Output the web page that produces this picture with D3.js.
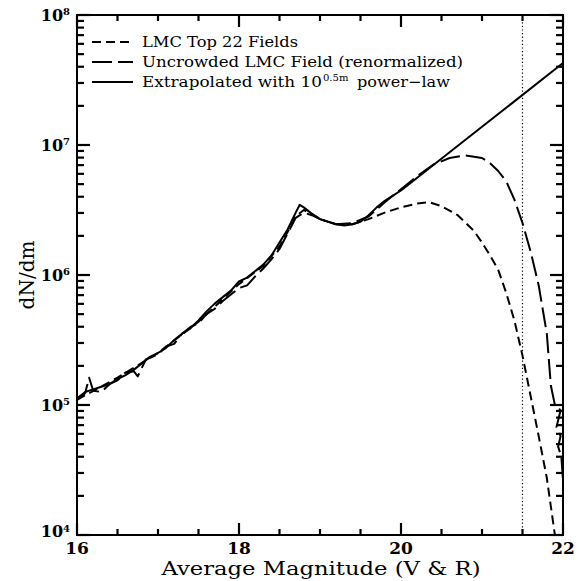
<!DOCTYPE html>
<html>
<head>
<meta charset="utf-8">
<script src="https://cdn.jsdelivr.net/npm/d3@7"></script>
<style>
  body { margin: 0; background: #fff; }
  text { font-family: "DejaVu Serif", serif; fill: #000; }
</style>
</head>
<body>
<svg id="lfChart" width="578" height="581"></svg>
<script>
// --- data (log10 of dN/dm) ---
const top22Mag = [16.0, 16.5, 17.0, 17.5, 18.0, 18.3, 18.5, 18.6, 18.7, 18.8, 18.9, 19.0, 19.2, 19.4, 19.6, 19.8, 20.0, 20.2, 20.35, 20.5, 20.7, 20.9, 21.0, 21.1, 21.2, 21.3, 21.4, 21.5, 21.6, 21.7, 21.8, 21.9]
const top22Log = [5.04, 5.21, 5.40, 5.64, 5.93, 6.07, 6.22, 6.33, 6.45, 6.50, 6.47, 6.43, 6.39, 6.39, 6.43, 6.48, 6.52, 6.55, 6.56, 6.53, 6.46, 6.34, 6.25, 6.15, 6.04, 5.86, 5.65, 5.38, 5.07, 4.76, 4.44, 4.0]

const uncrowdedMag = [16.0, 16.1, 16.15, 16.2, 16.3, 16.4, 16.5, 16.6, 16.7, 16.75, 16.85, 17.0, 17.1, 17.2, 17.3, 17.4, 17.5, 17.6, 17.7, 17.8, 17.9, 18.0, 18.1, 18.2, 18.3, 18.4, 18.5, 18.6, 18.7, 18.8, 18.9, 19.0, 19.2, 19.4, 19.6, 19.8, 20.0, 20.2, 20.4, 20.6, 20.8, 21.0, 21.1, 21.2, 21.3, 21.4, 21.5, 21.6, 21.7, 21.8, 21.85, 21.9, 21.97, 21.92, 21.97, 21.94, 21.98, 22.0]
const uncrowdedLog = [5.04, 5.09, 5.21, 5.11, 5.10, 5.16, 5.19, 5.25, 5.26, 5.22, 5.35, 5.39, 5.45, 5.47, 5.55, 5.60, 5.63, 5.70, 5.74, 5.80, 5.85, 5.90, 5.92, 5.99, 6.05, 6.12, 6.20, 6.32, 6.44, 6.48, 6.46, 6.43, 6.39, 6.40, 6.45, 6.56, 6.66, 6.76, 6.85, 6.90, 6.92, 6.90, 6.86, 6.80, 6.72, 6.58, 6.40, 6.18, 5.92, 5.55, 5.15, 5.00, 4.96, 4.83, 4.76, 4.68, 4.60, 4.42]

const extrapMag = [16.0, 16.1, 16.2, 16.3, 16.4, 16.5, 16.6, 16.7, 16.8, 16.9, 17.0, 17.1, 17.2, 17.3, 17.4, 17.5, 17.6, 17.7, 17.8, 17.9, 18.0, 18.1, 18.2, 18.3, 18.4, 18.5, 18.6, 18.7, 18.75, 18.8, 18.9, 19.0, 19.1, 19.2, 19.3, 19.4, 19.5, 19.6, 19.7, 19.8, 19.9, 20.0, 21.0, 22.0]
const extrapLog = [5.05, 5.10, 5.12, 5.14, 5.16, 5.20, 5.23, 5.27, 5.32, 5.37, 5.40, 5.44, 5.50, 5.55, 5.59, 5.65, 5.72, 5.78, 5.83, 5.88, 5.95, 5.98, 6.03, 6.08, 6.15, 6.25, 6.35, 6.48, 6.54, 6.52, 6.47, 6.43, 6.41, 6.39, 6.38, 6.39, 6.41, 6.46, 6.52, 6.57, 6.61, 6.65, 7.14, 7.63]

const xMajorTicks = [16, 18, 20, 22]
const xMinorTicks = [16.5, 17, 17.5, 18.5, 19, 19.5, 20.5, 21, 21.5]
const yDecades = [4, 5, 6, 7, 8]
const cutMag = 21.5

const legendLabels = ["LMC Top 22 Fields", "Uncrowded LMC Field (renormalized)", "Extrapolated with 10"]

// --- layout ---
const plot = { left: 77, right: 563, top: 15, bottom: 535 }
const svg = d3.select("#lfChart")

const xScale = d3.scaleLinear().domain([16, 22]).range([plot.left, plot.right])
const yScale = d3.scaleLog().domain([1e4, 1e8]).range([plot.bottom, plot.top])

const yMajor = yDecades.map(e => Math.pow(10, e))
const yMinor = []
yDecades.slice(0, -1).forEach(e => {
  for (let k = 2; k <= 9; k++) yMinor.push(k * Math.pow(10, e))
})

svg.append("clipPath").attr("id", "plotClip")
  .append("rect")
  .attr("x", plot.left).attr("y", plot.top)
  .attr("width", plot.right - plot.left).attr("height", plot.bottom - plot.top)

// frame
svg.append("rect")
  .attr("x", plot.left).attr("y", plot.top)
  .attr("width", plot.right - plot.left).attr("height", plot.bottom - plot.top)
  .attr("fill", "none").attr("stroke", "#000").attr("stroke-width", 2)

// ticks, pointing inward on all four sides
const tickG = svg.append("g")
function xTicks(vals, len) {
  tickG.selectAll(null).data(vals).enter().append("line")
    .attr("x1", d => xScale(d)).attr("x2", d => xScale(d))
    .attr("y1", plot.bottom).attr("y2", plot.bottom - len)
    .attr("stroke", "#000").attr("stroke-width", 2.2)
  tickG.selectAll(null).data(vals).enter().append("line")
    .attr("x1", d => xScale(d)).attr("x2", d => xScale(d))
    .attr("y1", plot.top).attr("y2", plot.top + len)
    .attr("stroke", "#000").attr("stroke-width", 2.2)
}
function yTicks(vals, len) {
  tickG.selectAll(null).data(vals).enter().append("line")
    .attr("y1", d => yScale(d)).attr("y2", d => yScale(d))
    .attr("x1", plot.left).attr("x2", plot.left + len)
    .attr("stroke", "#000").attr("stroke-width", 2.2)
  tickG.selectAll(null).data(vals).enter().append("line")
    .attr("y1", d => yScale(d)).attr("y2", d => yScale(d))
    .attr("x1", plot.right).attr("x2", plot.right - len)
    .attr("stroke", "#000").attr("stroke-width", 2.2)
}
xTicks(xMajorTicks, 12)
xTicks(xMinorTicks, 6)
yTicks(yMajor, 13)
yTicks(yMinor, 7)

// x tick labels
svg.append("g").selectAll("text")
  .data(xMajorTicks)
  .enter()
  .append("text")
  .attr("x", d => xScale(d))
  .attr("y", plot.bottom + 19)
  .attr("text-anchor", "middle")
  .attr("font-size", 17)
  .attr("font-weight", "bold")
  .text(d => d)

// y tick labels 10^n
const yLab = svg.append("g").selectAll("text")
  .data(yDecades)
  .enter()
  .append("text")
  .attr("x", plot.left - 7)
  .attr("y", d => yScale(Math.pow(10, d)))
  .attr("dy", d => d === 4 ? "0.15em" : "0.35em")
  .attr("text-anchor", "end")
  .attr("font-size", 16)
  .attr("font-weight", "bold")
yLab.append("tspan").text("10")
yLab.append("tspan").attr("font-size", 10).attr("dy", "-0.55em").text(d => d)

// cut line at 21.5
svg.append("line")
  .attr("x1", xScale(cutMag)).attr("x2", xScale(cutMag))
  .attr("y1", plot.top).attr("y2", plot.bottom)
  .attr("stroke", "#000").attr("stroke-width", 1.2).attr("stroke-dasharray", "1.2,2.4")

// curves
const line = d3.line()
  .x(d => xScale(d[0]))
  .y(d => yScale(Math.pow(10, d[1])))

const curves = [
  { mag: top22Mag, log: top22Log, dash: "9,5" },
  { mag: uncrowdedMag, log: uncrowdedLog, dash: "20,6" },
  { mag: extrapMag, log: extrapLog, dash: null }
]

svg.append("g").attr("clip-path", "url(#plotClip)")
  .selectAll("path")
  .data(curves)
  .enter()
  .append("path")
  .attr("d", d => line(d3.zip(d.mag, d.log)))
  .attr("fill", "none")
  .attr("stroke", "#000")
  .attr("stroke-width", 2)
  .attr("stroke-linejoin", "round")
  .attr("stroke-dasharray", d => d.dash)

// legend
const legendY = [42, 62, 82]
const legendWidths = [156, 321, 180]
const leg = svg.append("g")
curves.forEach((c, i) => {
  leg.append("line")
    .attr("x1", 92).attr("x2", 133)
    .attr("y1", legendY[i]).attr("y2", legendY[i])
    .attr("stroke", "#000").attr("stroke-width", 2)
    .attr("stroke-dasharray", c.dash)
  leg.append("text")
    .attr("x", 142).attr("y", legendY[i] + 5)
    .attr("font-size", 15)
    .attr("textLength", legendWidths[i])
    .attr("lengthAdjust", "spacingAndGlyphs")
    .text(legendLabels[i])
})
leg.append("text")
  .attr("x", 323).attr("y", legendY[2] - 1)
  .attr("font-size", 10)
  .text("0.5m")
leg.append("text")
  .attr("x", 357).attr("y", legendY[2] + 5)
  .attr("font-size", 15)
  .attr("textLength", 93)
  .attr("lengthAdjust", "spacingAndGlyphs")
  .text("power\u2212law")

// axis titles
svg.append("text")
  .attr("x", (plot.left + plot.right) / 2 + 1)
  .attr("y", 575)
  .attr("text-anchor", "middle")
  .attr("font-size", 19)
  .attr("textLength", 319)
  .attr("lengthAdjust", "spacingAndGlyphs")
  .text("Average Magnitude (V & R)")

svg.append("text")
  .attr("transform", `translate(34,${(plot.top + plot.bottom) / 2}) rotate(-90)`)
  .attr("text-anchor", "middle")
  .attr("font-size", 20)
  .text("dN/dm")
</script>
</body>
</html>
